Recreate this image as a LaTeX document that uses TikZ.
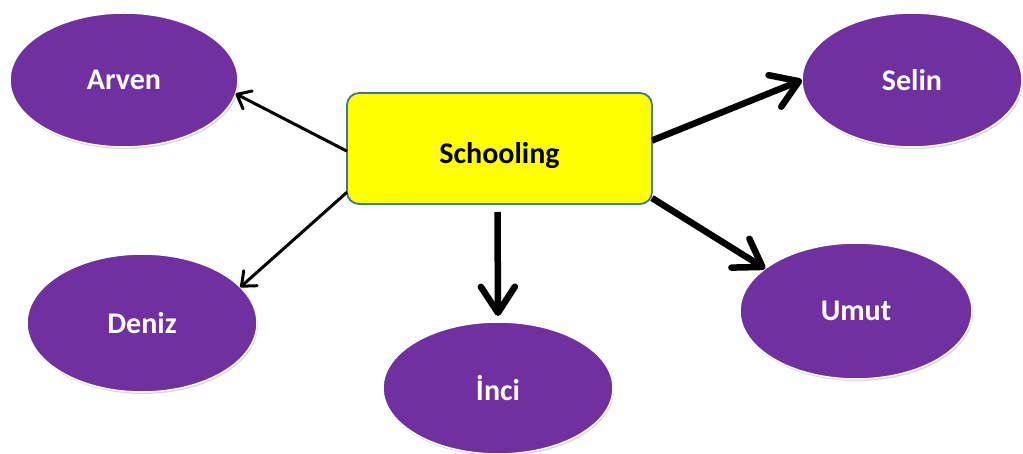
\documentclass[tikz,border=0pt]{standalone}
\usepackage{fontspec}
\setmainfont{Carlito}
\usetikzlibrary{shapes.geometric,arrows.meta,shadows}
\definecolor{nodepurple}{HTML}{7030A0}
\definecolor{boxyellow}{HTML}{FFFF00}
\definecolor{boxborder}{HTML}{41719C}
\tikzset{
  person/.style={ellipse, fill=nodepurple, draw=white, line width=1.5pt,
    inner sep=0pt, outer sep=0pt, text=white,
    font=\fontsize{30}{34}\selectfont\bfseries,
    drop shadow={shadow xshift=1pt, shadow yshift=-2pt, opacity=0.3, fill=gray}},
  topic/.style={rectangle, rounded corners=12pt, fill=boxyellow, draw=boxborder,
    line width=1.8pt, inner sep=0pt, outer sep=0pt,
    minimum width=305pt, minimum height=111pt,
    font=\fontsize{30}{34}\selectfont\bfseries},
  thinarrow/.style={line width=3pt, -{Straight Barb[length=12pt, width=20pt, round]}},
  thickarrow/.style={line width=6.5pt, -{Straight Barb[length=26pt, width=34pt, round]}},
}
\begin{document}
\begin{tikzpicture}[x=1pt, y=-1pt]
\useasboundingbox (0,0) rectangle (1023,454);
\node[topic] (box) at (499.5,148.5) {\raisebox{-4pt}[\height][0pt]{Schooling}};
\node[person, minimum width=228pt, minimum height=134pt] (arven) at (124,80) {Arven};
\node[person, minimum width=220pt, minimum height=134pt] (selin) at (912,80) {Selin};
\node[person, minimum width=230pt, minimum height=138pt] (deniz) at (142,323) {Deniz};
\node[person, minimum width=232pt, minimum height=136pt] (umut) at (856,311) {Umut};
\node[person, minimum width=230pt, minimum height=132pt] (inci) at (498,388) {İnci};
\draw[thinarrow] (box.181) -- (arven.-7);
\draw[thinarrow] (box.196) -- (deniz.20);
\draw[thickarrow] (box.3.6) -- (selin.180);
\draw[thickarrow] (box.-18.7) -- (umut.155);
\draw[thickarrow, shorten <=8pt, shorten >=6pt] ([xshift=-2pt]box.south) -- (inci.north);
\end{tikzpicture}
\end{document}
